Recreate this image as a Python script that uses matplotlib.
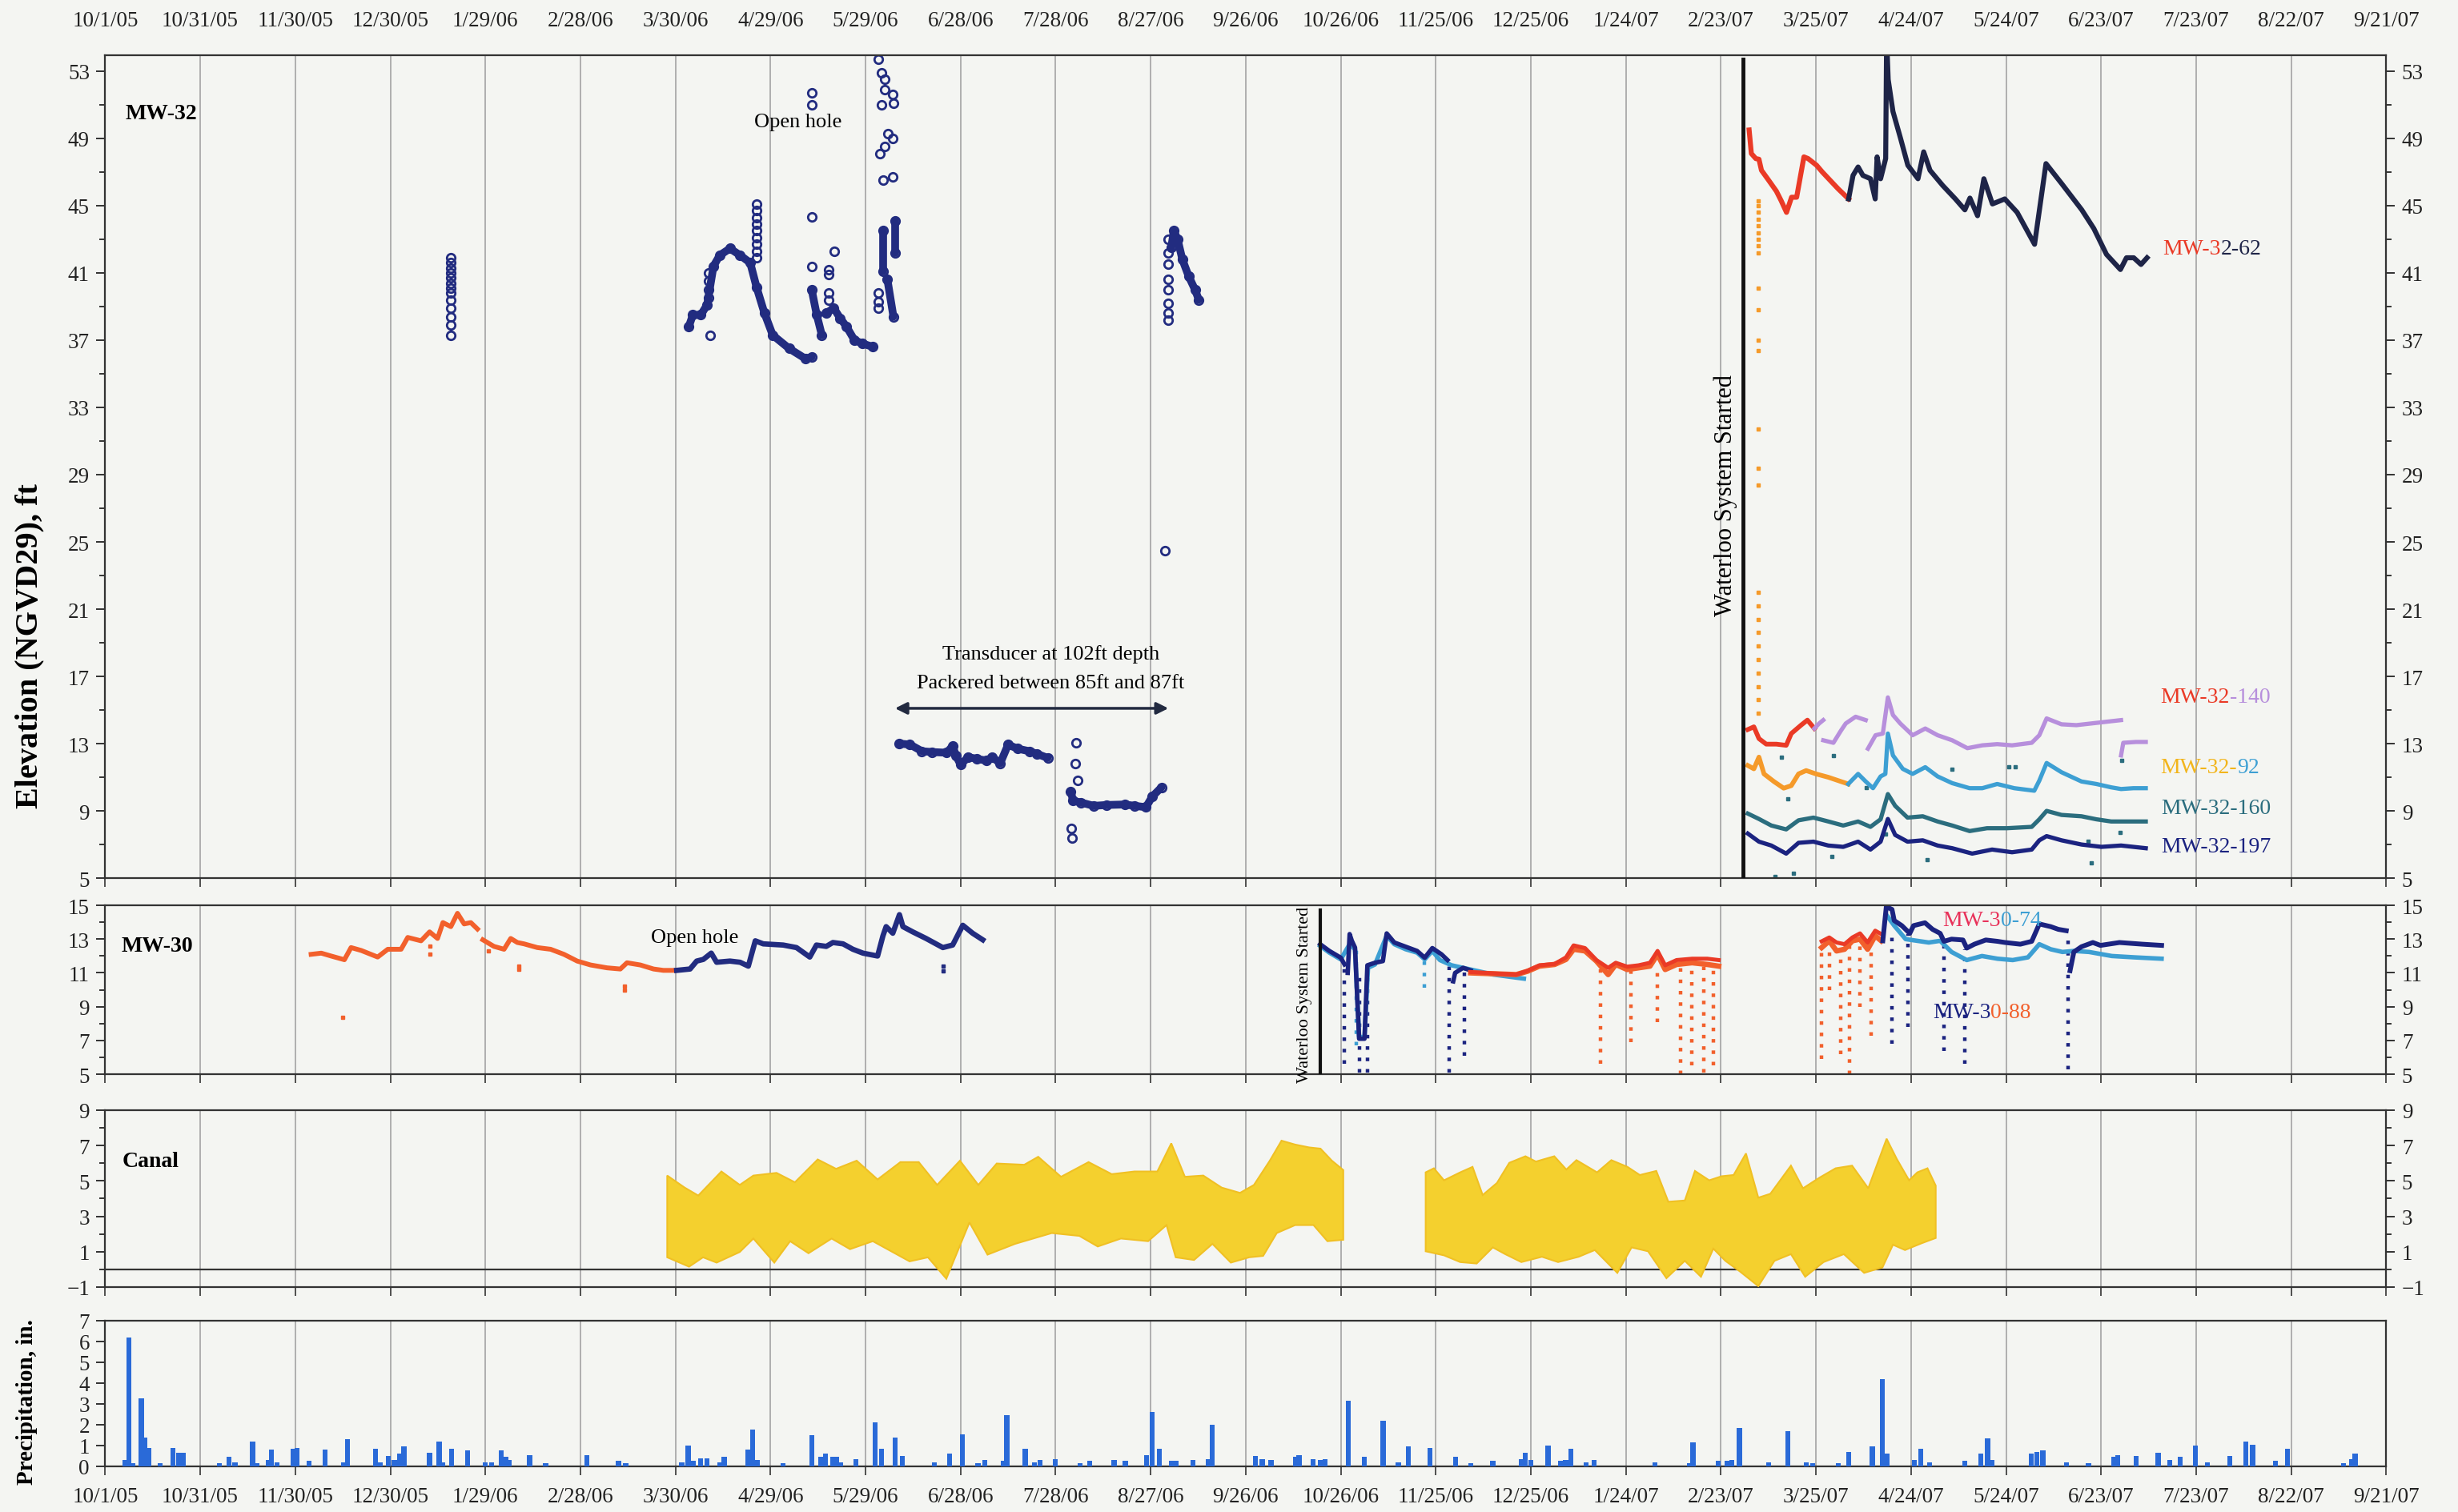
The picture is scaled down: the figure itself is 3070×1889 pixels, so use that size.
import numpy as np
import matplotlib
matplotlib.use("Agg")
import matplotlib.pyplot as plt
import matplotlib.dates as mdates
from matplotlib.ticker import FixedLocator, FuncFormatter
from datetime import datetime

plt.rcParams['font.family'] = ['Liberation Serif', 'DejaVu Serif']

# all x values are days after 10/1/05
T0 = mdates.date2num(datetime(2005, 10, 1))


def t(days):
    return T0 + np.asarray(days, dtype=float)


BG = '#f4f5f2'
GRID = '#9c9c9c'
NAVY = '#222c80'
DARK = '#1e2447'
RED = '#ea3a26'
ORANGE = '#f59a2a'
PURPLE = '#b78fdc'
LBLUE = '#3d9fd3'
TEAL = '#2b6d7e'
DNAVY = '#1b2380'
PINK = '#e8325a'
ORED = '#f2602c'
YELLOW = '#f4d02e'
PBLUE = '#2a6ad8'

# ---------------- MW-32, open hole 2006 (circles) ----------------
oh_a_day = [184.2, 185.5, 188, 190, 192, 194, 197.2, 200.4, 203.6, 205.6, 208.1, 210.7, 215.9, 221, 223]
oh_a_val = [37.8, 38.5, 38.5, 39.1, 41.4, 42.05, 42.45, 42.05, 41.6, 40.15, 38.6, 37.3, 36.5, 35.9, 36.0]
oh_b_day = [223, 224.6, 226.2]
oh_b_val = [40.0, 38.5, 37.3]
oh_c_day = [227.5, 230, 232, 234, 236.5, 239, 242.3]
oh_c_val = [38.6, 38.9, 38.3, 37.8, 37.0, 36.8, 36.6]
oh_d_day = [245.6, 245.6]
oh_d_val = [41.1, 43.5]
oh_e_day = [246.9, 248.8]
oh_e_val = [40.6, 38.4]
oh_f_day = [249.3, 249.3]
oh_f_val = [42.2, 44.1]
oh_g_day = [336.5, 337.3, 338.5, 340, 342, 344, 345.2]
oh_g_val = [42.5, 43.5, 43.0, 41.8, 40.8, 40.0, 39.4]
oh_pts_day = [109] * 13 + [205.5] * 9 + [190.5] * 4 + [191, 223, 223, 223, 223, 228.4, 228.4, 228.4, 228.4, 230.2,
              244, 244, 244, 244, 245, 246, 246, 245, 248.5, 248.8, 247, 244.5, 246, 248.5, 245.5, 248.6,
              334.5] + [335.4] * 8
oh_pts_val = [41.9, 41.6, 41.3, 41.0, 40.7, 40.4, 40.1, 39.8, 39.4, 38.9, 38.4, 37.9, 37.3,
              45.1, 44.7, 44.3, 43.9, 43.5, 43.1, 42.7, 42.3, 41.9,
              39.5, 40.0, 40.5, 41.0,
              37.3, 51.7, 51.0, 44.35, 41.4, 41.2, 40.9, 39.8, 39.4, 42.3,
              39.8, 39.3, 38.9, 53.7, 52.9, 52.5, 51.9, 51.0, 51.6, 51.1, 49.3, 48.1, 48.5, 49.0, 46.5, 46.7,
              24.5, 43.0, 42.2, 41.5, 40.6, 40.0, 39.2, 38.6, 38.2]

# packered transducer
pk_a_day = [250.5, 254, 257.8, 261, 265.6, 267.5, 268.5, 270, 272.4, 275, 278.2, 280, 282.5, 285, 288, 291.7, 294, 297.5]
pk_a_val = [13.0, 12.95, 12.55, 12.5, 12.46, 12.86, 12.3, 11.75, 12.2, 12.1, 11.99, 12.2, 11.83, 12.94, 12.7, 12.55, 12.4, 12.15]
pk_b_day = [304.8, 305.5, 308, 312, 316, 321.8, 325, 328.5, 330.5, 333.4]
pk_b_val = [10.16, 9.6, 9.5, 9.3, 9.35, 9.38, 9.3, 9.22, 9.85, 10.4]
pk_pts_day = [306.5, 306.2, 307, 304.9, 305.3]
pk_pts_val = [13.05, 11.8, 10.83, 7.97, 7.4]

# ---------------- MW-32 multilevel 2007 ----------------
m62_red_day = [518.9, 519.6, 521, 522, 522.8, 525.1, 527.5, 529, 530.7, 532.3, 533.9, 536.2, 537.5, 540.2, 542, 544, 547, 550.3]
m62_red_val = [49.5, 48.1, 47.8, 47.76, 47.1, 46.5, 45.86, 45.3, 44.6, 45.5, 45.5, 47.9, 47.8, 47.4, 47.0, 46.6, 46.0, 45.4]
m62_day = [550.3, 551.7, 553.3, 554.8, 557.2, 558.7, 559.3, 560.4, 562, 562.3, 562.8, 564.3, 566.7, 569, 572.2, 574, 576,
           580, 584, 587, 588.6, 591, 593, 595.7, 599.6, 603.5, 609, 612.6, 617.6, 623.9, 627.7, 631.7, 636.1, 638,
           640.3, 642.6, 644.5]
m62_val = [45.4, 46.8, 47.3, 46.8, 46.6, 45.4, 47.9, 46.6, 47.8, 55.0, 52.5, 50.6, 49.0, 47.4, 46.6, 48.2, 47.1,
           46.2, 45.4, 44.75, 45.45, 44.4, 46.6, 45.1, 45.4, 44.6, 42.7, 47.5, 46.3, 44.75, 43.64, 42.1, 41.2, 41.9,
           41.9, 41.5, 41.9]
m62_dots_val = [45.3, 45.0, 44.6, 44.2, 43.8, 43.4, 43.0, 42.6, 42.2, 40.1, 38.8, 37.0, 36.4, 31.7, 29.4, 28.4,
                22.0, 21.2, 20.4, 19.6, 18.8, 18.0, 17.2, 16.4, 15.6, 14.8]

m140_red_day = [518.5, 520.4, 522, 524.3, 527.5, 530.6, 532.2, 535.3, 537.3, 539.5]
m140_red_val = [13.84, 14.0, 13.3, 12.97, 12.97, 12.9, 13.6, 14.1, 14.4, 13.9]
m140_a_day = [539.5, 541, 542.3]
m140_a_val = [13.9, 14.2, 14.4]
m140_b_day = [542.3, 545.5, 547.8, 549.4, 552.5, 555.7]
m140_b_val = [13.2, 13.05, 13.75, 14.2, 14.6, 14.4]
m140_c_day = [556.4, 558.8, 561.1, 562.7, 564.3, 566.6, 570.5, 574.5, 578.4, 583, 587.8, 592.5, 597.2, 601.9, 608.1,
              610.5, 612.8, 617.5, 622.2, 626.9, 631.6, 636.3]
m140_c_val = [12.7, 13.5, 13.6, 15.75, 14.7, 14.2, 13.5, 13.9, 13.5, 13.2, 12.73, 12.9, 12.97, 12.9, 13.05, 13.5,
              14.5, 14.15, 14.1, 14.2, 14.3, 14.4]
m140_d_day = [636.3, 637, 641, 644.1]
m140_d_val = [12.3, 13.05, 13.1, 13.1]

m92_or_day = [518.5, 520.4, 522, 523.6, 526.7, 529.8, 532.2, 534.5, 536.9, 540, 543.9, 550.2]
m92_or_val = [11.7, 11.5, 12.2, 11.2, 10.75, 10.35, 10.5, 11.2, 11.4, 11.2, 11.0, 10.6]
m92_day = [550.2, 553.3, 555.7, 558, 560.4, 561.9, 562.7, 564.3, 567.4, 570.5, 574.5, 578.4, 583, 588.5, 592.5,
           597.2, 602.6, 608.9, 610.5, 612.8, 617.5, 623.8, 628.5, 633.2, 636.3, 640.2, 644.1]
m92_val = [10.6, 11.2, 10.75, 10.35, 11.05, 11.2, 13.6, 12.3, 11.5, 11.2, 11.6, 11.05, 10.65, 10.35, 10.35, 10.6,
           10.35, 10.2, 10.8, 11.85, 11.3, 10.75, 10.6, 10.4, 10.3, 10.35, 10.35]

m160_day = [518.5, 522, 525.9, 530.6, 534.5, 539.2, 543.9, 548.6, 553.3, 557.2, 560.4, 562.7, 565, 568.9, 573.7,
            578.4, 583, 588.5, 594, 600.3, 608.1, 610.5, 612.8, 617.5, 623.8, 628.5, 633.2, 639.4, 644.1]
m160_val = [8.84, 8.52, 8.13, 7.9, 8.44, 8.6, 8.37, 8.13, 8.37, 8.05, 8.5, 10.0, 9.3, 8.6, 8.68, 8.37, 8.13, 7.8,
            7.97, 7.97, 8.05, 8.5, 9.0, 8.76, 8.68, 8.5, 8.37, 8.37, 8.37]

m197_day = [518.5, 522, 525.9, 530.6, 534.5, 539.2, 543.9, 548.6, 553.3, 557.2, 560.4, 562.7, 565, 568.9, 573.7,
            578.4, 583, 589.3, 595.6, 601.9, 608.1, 610.5, 612.8, 617.5, 623.8, 630.1, 636.3, 644.1]
m197_val = [7.65, 7.17, 6.94, 6.46, 7.1, 7.17, 6.94, 6.86, 7.17, 6.7, 7.17, 8.52, 7.57, 7.17, 7.25, 6.94, 6.78,
            6.46, 6.7, 6.54, 6.7, 7.25, 7.5, 7.25, 7.0, 6.86, 6.94, 6.78]

stray_day = [522, 527, 533, 545, 556, 562, 575, 583, 588.5, 601, 603, 626, 627, 636, 636.5, 529, 531, 545.5]
stray_val = [11.9, 5.1, 5.3, 6.3, 10.4, 7.6, 6.1, 11.5, 4.9, 11.6, 11.6, 7.2, 5.9, 7.7, 12.0, 12.2, 9.7, 12.3]

# ---------------- MW-30 ----------------
w30_red_a_day = [65, 68.2, 71.3, 75.5, 77.6, 80.8, 86, 89.2, 93.4, 95.5, 99.7, 102.4, 104.9, 106.6, 109.1, 111.2, 113.3, 115.4, 117.5]
w30_red_a_val = [12.1, 12.17, 12.0, 11.78, 12.5, 12.33, 11.94, 12.4, 12.4, 13.1, 12.9, 13.43, 13.04, 13.98, 13.74, 14.53, 13.9, 13.98, 13.6]
w30_red_b_day = [119.2, 122.7, 125.9, 128, 130.1, 132.2, 136.4, 140.6, 144.8, 149, 153.2, 158.4, 162.6, 164.7, 168.9, 173.1, 176.2, 179.4]
w30_red_b_val = [12.96, 12.57, 12.4, 13.04, 12.8, 12.72, 12.5, 12.4, 12.1, 11.7, 11.47, 11.3, 11.23, 11.6, 11.47, 11.23, 11.15, 11.15]
w30_red_pts_day = [74.9, 102.4, 102.4, 121, 130.5, 130.5, 164, 164]
w30_red_pts_val = [8.36, 12.1, 12.6, 12.3, 11.4, 11.2, 10.2, 10.0]
w30_oh_day = [180.4, 184.6, 186.7, 188.8, 191.3, 193, 197.2, 200.4, 203, 205.2, 207.7, 214, 218.2, 222.4, 224.5, 227.6,
              229.7, 232.9, 236, 239.2, 243.8, 245.5, 246.5, 248.6, 250.7, 251.8, 254.9, 259.1, 264.4, 267.5, 270.7,
              273.8, 277]
w30_oh_val = [11.15, 11.23, 11.7, 11.8, 12.17, 11.63, 11.7, 11.63, 11.4, 12.9, 12.72, 12.65, 12.5, 11.94, 12.65, 12.57,
              12.8, 12.72, 12.4, 12.17, 12.0, 13.2, 13.74, 13.35, 14.45, 13.74, 13.43, 13.04, 12.5, 12.65, 13.82,
              13.35, 12.96]

w88_a_day = [383.5, 386.4, 390, 391.2]
w88_a_val = [12.7, 12.3, 11.9, 11.5]
w88_b_day = [392.2, 392.8, 393.5, 394.5, 395.2, 395.8, 397.5, 398.4, 400.8, 403.3, 404.5, 406.9, 410.5, 414.1, 416.5,
             418.9, 421.8, 423.7]
w88_b_val = [11.0, 13.3, 12.9, 12.5, 9.5, 7.1, 7.1, 11.45, 11.6, 11.7, 13.34, 12.8, 12.55, 12.3, 11.9, 12.47, 12.1, 11.76]
w88_c_day = [425.5, 426.1, 428.6, 431]
w88_c_val = [10.5, 11.0, 11.3, 11.15]
w74_a_day = [383.5, 386.4, 390, 392.8, 394.5, 395.8, 397.5, 398.6, 400.8, 404.5, 406.9, 410.5, 414.1, 416.5, 418.9,
             421.3, 425, 431, 438.2, 447.8]
w74_a_val = [12.6, 12.2, 11.8, 12.7, 12.4, 7.2, 7.2, 11.3, 11.5, 13.2, 12.7, 12.4, 12.2, 11.8, 12.3, 11.76, 11.45,
             11.2, 10.9, 10.66]
wmix_a_day = [431, 438.2, 445.4, 449, 452.7, 457.5, 461.1, 463.5, 467.1, 470.7, 474.4, 476.8, 480.4, 484, 487.6, 490,
              492.4, 496, 500.9, 505.7, 509.3]
wmix_a_74 = [11.05, 10.97, 10.9, 11.13, 11.45, 11.53, 11.92, 12.63, 12.47, 11.76, 11.3, 11.6, 11.37, 11.45, 11.6, 12.3,
             11.45, 11.76, 11.84, 11.84, 11.76]
wmix_a_88 = [11.0, 10.95, 10.9, 11.1, 11.4, 11.5, 11.8, 12.4, 12.3, 11.7, 10.9, 11.5, 11.2, 11.3, 11.4, 12.1, 11.2,
             11.5, 11.6, 11.5, 11.4]
wmix_b_day = [541.8, 544.2, 546.5, 549, 551.5, 553.9, 556.3, 558.7, 560.6]
wmix_b_74 = [12.87, 13.1, 12.8, 12.7, 13.1, 13.34, 12.8, 13.5, 13.3]
wmix_b_88 = [12.5, 12.9, 12.3, 12.4, 12.9, 13.0, 12.4, 13.2, 12.9]
w88_d_day = [561.1, 562.2, 564, 564.7, 567.1, 569.6, 570.8, 574.4, 576.8, 579.2, 580.4, 582.8, 586.4, 587.6, 590,
             593.6, 597.3, 599.7, 604.5, 608.1, 610.5, 614.1, 616.5, 619]
w88_d_val = [12.9, 14.92, 14.76, 14.1, 13.8, 13.34, 13.8, 13.97, 13.58, 13.34, 12.87, 13.0, 12.95, 12.47, 12.7, 12.95,
             12.87, 12.8, 12.7, 12.87, 13.9, 13.74, 13.58, 13.5]
w88_e_day = [620.2, 621.4, 623.8, 627.4, 629.8, 635.8, 643.1, 649.1]
w88_e_val = [11.13, 12.24, 12.55, 12.8, 12.63, 12.8, 12.7, 12.63]
w74_b_day = [562.2, 564.7, 568.3, 575.6, 579.2, 582.8, 587.6, 592.4, 597.3, 602.1, 606.9, 610.5, 614.1, 617.8, 621.4,
             626.2, 633.4, 640.6, 649.1]
w74_b_val = [14.45, 13.8, 13.0, 12.8, 12.9, 12.24, 11.76, 12.0, 11.84, 11.76, 11.92, 12.7, 12.4, 12.24, 12.3, 12.24,
             12.0, 11.92, 11.84]

drop88n_day = [391.2, 396.0, 398.4, 424.2, 429.0, 564.0, 569.1, 580.4, 587.1, 619.7]
drop88n_top = [11.5, 11.0, 11.0, 11.5, 11.2, 13.5, 13.3, 12.8, 12.4, 13.0]
drop88n_bot = [5.6, 5.1, 5.1, 5.1, 6.1, 6.8, 7.8, 6.4, 5.6, 5.3]
drop74_day = [394.8, 416.5]
drop74_top = [12.5, 11.8]
drop74_bot = [6.7, 10.1]
drop88o_day = [472, 481.6, 490, 497.2, 500.9, 504.5, 507.6, 541.8, 544.2, 547.9, 550.7, 553.9, 557.5]
drop88o_top = [11.5, 11.3, 11.4, 11.6, 11.5, 11.4, 11.5, 12.4, 12.8, 12.3, 12.6, 12.8, 12.4]
drop88o_bot = [5.6, 6.9, 8.1, 5.0, 5.5, 5.1, 5.5, 5.9, 10.0, 6.2, 5.0, 9.0, 7.3]

# ---------------- Canal (envelope of the tidal record) ----------------
canal1_up_day = [177.4, 182.9, 187.2, 194.5, 200.3, 204.6, 211.9, 217.7, 224.9, 230.7, 237.2, 243.8, 251, 256.8, 262.6,
                 269.8, 275.6, 281.4, 290.1, 294.5, 301.7, 310.4, 317.7, 324.9, 332.1, 336.5, 340.8, 346.6, 352.4,
                 358.2, 362.6, 367.6, 371.3, 375.6, 380, 383.6, 387.2, 390.8]
canal1_up_val = [5.30, 4.62, 4.17, 5.53, 4.77, 5.30, 5.45, 4.92, 6.21, 5.68, 6.14, 5.08, 6.06, 6.06, 4.77, 6.14, 4.77,
                 5.98, 5.91, 6.36, 5.23, 6.06, 5.38, 5.53, 5.53, 7.12, 5.23, 5.30, 4.62, 4.32, 4.77, 6.14, 7.27,
                 7.05, 6.89, 6.82, 6.14, 5.61]
canal1_lo_day = [177.4, 184.3, 188.7, 193, 200.3, 204.6, 211.2, 216.2, 222, 229.3, 235.1, 242.3, 253.9, 259.7, 265.5,
                 272.8, 278.5, 287.2, 298.8, 307.5, 313.3, 320.6, 329.2, 335, 337.9, 343.7, 349.5, 355.3, 361.1,
                 365.5, 369.8, 375.6, 381.4, 385.8, 390.8]
canal1_lo_val = [0.68, 0.15, 0.68, 0.38, 0.98, 1.74, 0.38, 1.59, 0.91, 1.74, 1.14, 1.59, 0.45, 0.68, -0.53, 2.65, 0.83,
                 1.44, 2.05, 1.89, 1.29, 1.74, 1.59, 2.5, 0.68, 0.53, 1.44, 0.38, 0.68, 0.76, 2.05, 2.5, 2.5, 1.59,
                 1.67]
canal2_up_day = [416.8, 419.4, 422.6, 427.7, 431.6, 434.8, 439.3, 443.2, 448.3, 451.6, 457.4, 461.2, 464.4, 470.9,
                 475.4, 480.5, 484.4, 489.6, 493.4, 498.6, 501.8, 506.3, 510.2, 514, 517.9, 521.8, 525.6, 532.1,
                 535.9, 541.1, 546.2, 551.4, 556.5, 562.3, 565.5, 569.4, 572, 575.2, 577.8]
canal2_up_val = [5.48, 5.71, 5.03, 5.48, 5.79, 4.2, 4.88, 6.02, 6.39, 6.09, 6.39, 5.64, 6.17, 5.48, 6.17, 5.79, 5.33,
                 5.56, 3.82, 3.89, 5.56, 5.03, 5.26, 5.33, 6.55, 4.05, 4.27, 5.86, 4.58, 5.18, 5.71, 5.86, 4.58,
                 7.38, 6.24, 5.03, 5.48, 5.71, 4.73]
canal2_lo_day = [416.8, 422.6, 427.7, 432.9, 438, 441.9, 447, 453.5, 458.6, 465.1, 470.2, 477.3, 481.8, 487, 492.8,
                 498.6, 503.7, 507.6, 511.4, 516, 521.8, 526.9, 532.1, 536.6, 542.4, 548.8, 555.2, 561, 564.3,
                 568.1, 573.3, 577.8]
canal2_lo_val = [1.02, 0.79, 0.41, 0.33, 1.24, 0.86, 0.41, 0.71, 0.41, 0.71, 1.09, -0.2, 1.24, 1.02, -0.5, 0.48, -0.42,
                 1.17, 0.48, -0.12, -0.95, 0.48, 0.86, -0.42, 0.41, 0.86, -0.2, 0.11, 1.39, 1.09, 1.47, 1.77]

# ---------------- Precipitation (day, inches) ----------------
precip = [(6.2, 0.3), (7.5, 6.2), (8.7, 0.15), (11.4, 3.25), (12.5, 1.4), (13.7, 0.9), (17.4, 0.15), (21.4, 0.9),
          (23.1, 0.65), (24.6, 0.65), (36, 0.15), (39, 0.45), (41, 0.2), (46.5, 1.2), (48, 0.15), (51.4, 0.3),
          (52.5, 0.8), (54.3, 0.2), (59.3, 0.85), (60.5, 0.9), (64.4, 0.25), (69.4, 0.8), (75.3, 0.2), (76.5, 1.3),
          (85.4, 0.85), (86.9, 0.2), (89.4, 0.5), (91.3, 0.3), (92.9, 0.6), (94.3, 0.95), (102.4, 0.65),
          (105.4, 1.2), (106.5, 0.2), (109.3, 0.85), (114.3, 0.75), (120, 0.2), (122, 0.2), (125, 0.75),
          (126.4, 0.45), (127.6, 0.3), (134, 0.55), (139, 0.15), (152, 0.55), (162, 0.25), (164.3, 0.15),
          (182, 0.2), (184, 1.0), (185.6, 0.25), (188, 0.4), (190, 0.4), (194, 0.2), (195.4, 0.45), (203, 0.8),
          (204.3, 1.75), (205.8, 0.3), (214, 0.15), (223, 1.5), (226, 0.45), (227.3, 0.6), (229.6, 0.45),
          (230.8, 0.45), (232, 0.2), (237, 0.35), (243, 2.1), (245, 0.85), (249.4, 1.4), (251.6, 0.5),
          (261.7, 0.2), (266.5, 0.6), (270.5, 1.55), (275.5, 0.15), (277.7, 0.3), (283.5, 0.25), (284.6, 2.45),
          (290.4, 0.85), (293.3, 0.2), (295, 0.3), (299.8, 0.35), (307.7, 0.15), (310.8, 0.25), (318.5, 0.3),
          (322, 0.25), (328.7, 0.55), (330.5, 2.6), (332.8, 0.85), (336.6, 0.25), (338, 0.25), (343.4, 0.3),
          (348.2, 0.35), (349.4, 2.0), (363, 0.5), (365.2, 0.35), (368, 0.3), (375.7, 0.45), (376.8, 0.55),
          (381.3, 0.35), (383.5, 0.3), (385, 0.35), (392.4, 3.15), (397.4, 0.45), (403.4, 2.2), (408.2, 0.2),
          (411.3, 0.95), (418.2, 0.9), (426.3, 0.45), (431, 0.15), (438, 0.25), (447, 0.35), (448.2, 0.65),
          (450, 0.3), (455.4, 1.0), (459.4, 0.25), (461, 0.3), (462.6, 0.85), (467.4, 0.2), (470, 0.3),
          (489.2, 0.2), (500, 0.15), (501.2, 1.15), (509.2, 0.25), (512, 0.25), (513.5, 0.3), (515.8, 1.85),
          (525, 0.2), (531.2, 1.7), (537, 0.2), (539, 0.15), (547, 0.15), (550.3, 0.7), (557.8, 0.95),
          (561, 4.2), (562.4, 0.6), (571, 0.3), (573, 0.85), (575.8, 0.2), (587, 0.25), (592, 0.6),
          (594.2, 1.35), (595.5, 0.3), (608, 0.6), (609.7, 0.7), (611.6, 0.75), (619, 0.2), (626, 0.15),
          (634, 0.45), (635.2, 0.55), (641, 0.5), (648, 0.65), (651.7, 0.3), (655, 0.45), (659.7, 1.0),
          (663.5, 0.2), (670.7, 0.5), (675.6, 1.2), (677.8, 1.05), (685, 0.25), (688.8, 0.85), (706.6, 0.15),
          (709, 0.35), (710.2, 0.6)]
precip_day, precip_in = zip(*precip)

tick_days = np.arange(0, 721, 30)


def fmt_date(x, pos):
    d = mdates.num2date(x)
    return f"{d.month}/{d.day}/{d:%y}"


fig = plt.figure(figsize=(30.7, 18.9), dpi=100, facecolor=BG)
L, W = 0.0428, 0.9280
ax1 = fig.add_axes([L, 0.419, W, 0.544])
ax2 = fig.add_axes([L, 0.2894, W, 0.1116])
ax3 = fig.add_axes([L, 0.1487, W, 0.117])
ax4 = fig.add_axes([L, 0.0302, W, 0.0963])


def style(ax, ylim, major, minor, right=True):
    ax.set_facecolor(BG)
    ax.set_xlim(t(0), t(720))
    ax.set_ylim(*ylim)
    ax.set_axisbelow(True)
    ax.xaxis.set_major_locator(FixedLocator(t(tick_days)))
    ax.xaxis.set_major_formatter(FuncFormatter(fmt_date))
    ax.grid(axis='x', color=GRID, lw=1.1)
    ax.yaxis.set_major_locator(FixedLocator(major))
    if minor is not None:
        ax.yaxis.set_minor_locator(FixedLocator(minor))
    ax.tick_params(axis='y', which='major', direction='out', left=True, right=right, labelright=right,
                   labelsize=19.5, length=8, width=1.3, pad=6, colors='#222')
    ax.tick_params(axis='y', which='minor', direction='out', left=True, right=right, length=5, width=1.1)
    ax.tick_params(axis='x', direction='out', length=8, width=1.1, bottom=True, top=False,
                   labelbottom=False, labelsize=19.5, colors='#222')
    for s in ax.spines.values():
        s.set_linewidth(1.6)
        s.set_color('#333333')


style(ax1, (5, 53.95), np.arange(5, 54, 4), np.arange(7, 54, 4))
style(ax2, (5, 15), np.arange(5, 16, 2), np.arange(6, 15, 2))
style(ax3, (-1, 9), np.arange(-1, 10, 2), np.arange(0, 9, 2))
style(ax4, (0, 7), np.arange(0, 8, 1), None, right=False)
ax1.tick_params(axis='x', labeltop=True, pad=14)
ax4.tick_params(axis='x', labelbottom=True, pad=10)

# ---- MW-32 panel ----
oh_kw = dict(color=NAVY, lw=7, solid_capstyle='round', marker='o', ms=7.5, mfc='none', mec=NAVY, mew=2)
for d, v in [(oh_a_day, oh_a_val), (oh_b_day, oh_b_val), (oh_c_day, oh_c_val), (oh_d_day, oh_d_val),
             (oh_e_day, oh_e_val), (oh_f_day, oh_f_val), (oh_g_day, oh_g_val), (pk_a_day, pk_a_val),
             (pk_b_day, pk_b_val)]:
    ax1.plot(t(d), v, **oh_kw)
ax1.plot(t(oh_pts_day), oh_pts_val, ls='none', marker='o', ms=7.5, mfc='none', mec=NAVY, mew=2)
ax1.plot(t(pk_pts_day), pk_pts_val, ls='none', marker='o', ms=7.5, mfc='none', mec=NAVY, mew=2)

ax1.plot(t([517, 517]), [5, 53.7], color='#111111', lw=3.5, zorder=5)
ax1.text(t(511.5), 27.8, 'Waterloo System Started', rotation=90, ha='center', va='center', fontsize=22)

ax1.plot(t(m62_red_day), m62_red_val, color=RED, lw=4.5)
ax1.plot(t(m62_day), m62_val, color=DARK, lw=4.5)
ax1.plot(t([521.8] * len(m62_dots_val)), m62_dots_val, ls='none', marker='s', ms=3, color=ORANGE)
ax1.plot(t(stray_day), stray_val, ls='none', marker='s', ms=3.5, color=TEAL)

ax1.plot(t(m140_red_day), m140_red_val, color=RED, lw=4.2)
for d, v in [(m140_a_day, m140_a_val), (m140_b_day, m140_b_val), (m140_c_day, m140_c_val),
             (m140_d_day, m140_d_val)]:
    ax1.plot(t(d), v, color=PURPLE, lw=3.8)
ax1.plot(t(m92_or_day), m92_or_val, color=ORANGE, lw=4.2)
ax1.plot(t(m92_day), m92_val, color=LBLUE, lw=3.8)
ax1.plot(t(m160_day), m160_val, color=TEAL, lw=3.8)
ax1.plot(t(m197_day), m197_val, color=DNAVY, lw=3.8)

ax1.text(t(6.4), 50.5, 'MW-32', fontsize=20, fontweight='bold', va='center')
ax1.text(t(218.7), 50.0, 'Open hole', fontsize=19, ha='center', va='center')
ax1.text(t(298.5), 18.35, 'Transducer at 102ft depth', fontsize=19, ha='center', va='center')
ax1.text(t(298.5), 16.6, 'Packered between 85ft and 87ft', fontsize=19, ha='center', va='center')
ax1.annotate('', xy=(t(248.6), 15.1), xytext=(t(336.3), 15.1),
             arrowprops=dict(arrowstyle='<|-|>', color='#222a40', lw=2.5, mutation_scale=22))


def two_tone(ax, day, y, a, ca, b, cb, size=20):
    t1 = ax.text(t(day), y, a, color=ca, fontsize=size, va='center', ha='left')
    ax.annotate(b, xy=(1, 0), xycoords=t1, va='bottom', ha='left', color=cb, fontsize=size)


two_tone(ax1, 649.5, 42.45, 'MW-3', RED, '2-62', DARK)
two_tone(ax1, 648.8, 15.8, 'MW-32', RED, '-140', PURPLE)
two_tone(ax1, 648.8, 11.6, 'MW-32-', '#f2b51c', '92', LBLUE)
ax1.text(t(649), 9.15, 'MW-32-160', color=TEAL, fontsize=20, va='center')
ax1.text(t(649), 6.9, 'MW-32-197', color=DNAVY, fontsize=20, va='center')

# ---- MW-30 panel ----
ax2.plot(t(w30_red_a_day), w30_red_a_val, color=ORED, lw=4.3)
ax2.plot(t(w30_red_b_day), w30_red_b_val, color=ORED, lw=4.3)
ax2.plot(t(w30_red_pts_day), w30_red_pts_val, ls='none', marker='s', ms=3.5, color=ORED)
ax2.plot(t(w30_oh_day), w30_oh_val, color=NAVY, lw=4.8)
ax2.plot(t([264.4, 264.4]), [11.4, 11.1], ls='none', marker='s', ms=3.5, color=NAVY)

dot = (0, (1, 2.2))
ax2.vlines(t(drop88o_day), drop88o_bot, drop88o_top, colors=ORED, lw=3.2, linestyles=[dot])
ax2.vlines(t(drop74_day), drop74_bot, drop74_top, colors=LBLUE, lw=3.2, linestyles=[dot])
ax2.vlines(t(drop88n_day), drop88n_bot, drop88n_top, colors=DNAVY, lw=3.2, linestyles=[dot])
ax2.plot(t(w74_a_day), w74_a_val, color=LBLUE, lw=4)
for d, v in [(w88_a_day, w88_a_val), (w88_b_day, w88_b_val), (w88_c_day, w88_c_val)]:
    ax2.plot(t(d), v, color=DNAVY, lw=4)
ax2.plot(t(wmix_a_day), wmix_a_88, color=ORED, lw=4.8)
ax2.plot(t(wmix_a_day), wmix_a_74, color=RED, lw=3.6)
ax2.plot(t(wmix_b_day), wmix_b_88, color=ORED, lw=4.8)
ax2.plot(t(wmix_b_day), wmix_b_74, color=RED, lw=3.6)
ax2.plot(t(w74_b_day), w74_b_val, color=LBLUE, lw=4)
ax2.plot(t(w88_d_day), w88_d_val, color=DNAVY, lw=4.3)
ax2.plot(t(w88_e_day), w88_e_val, color=DNAVY, lw=4.3)

ax2.plot(t([383.5, 383.5]), [5, 14.7], color='#111111', lw=3, zorder=5)
ax2.text(t(378.5), 9.75, 'Waterloo System Started', rotation=90, ha='center', va='center', fontsize=16,
         clip_on=False)
ax2.text(t(5), 12.6, 'MW-30', fontsize=20, fontweight='bold', va='center')
ax2.text(t(186), 13.1, 'Open hole', fontsize=19, ha='center', va='center')
two_tone(ax2, 580, 14.13, 'MW-3', PINK, '0-74', LBLUE)
two_tone(ax2, 576.8, 8.68, 'MW-3', DNAVY, '0-88', ORED)

# ---- Canal panel ----
ax3.axhline(0, color='#333333', lw=1.6)
for ud, uv, ld, lv in [(canal1_up_day, canal1_up_val, canal1_lo_day, canal1_lo_val),
                       (canal2_up_day, canal2_up_val, canal2_lo_day, canal2_lo_val)]:
    ax3.fill(np.r_[t(ud), t(ld)[::-1]], np.r_[uv, lv[::-1]], color=YELLOW, ec='#f0c024', lw=1.5, zorder=3)
ax3.text(t(5.4), 6.1, 'Canal', fontsize=20, fontweight='bold', va='center')

# ---- Precipitation panel ----
ax4.bar(t(precip_day), precip_in, width=1.6, color=PBLUE, align='center', zorder=3)

fig.text(0.012, 0.573, 'Elevation (NGVD29), ft', rotation=90, ha='center', va='center', fontsize=29,
         fontweight='bold')
fig.text(0.011, 0.073, 'Precipitation, in.', rotation=90, ha='center', va='center', fontsize=21,
         fontweight='bold')

fig.savefig('out.png', dpi=100, facecolor=BG)
